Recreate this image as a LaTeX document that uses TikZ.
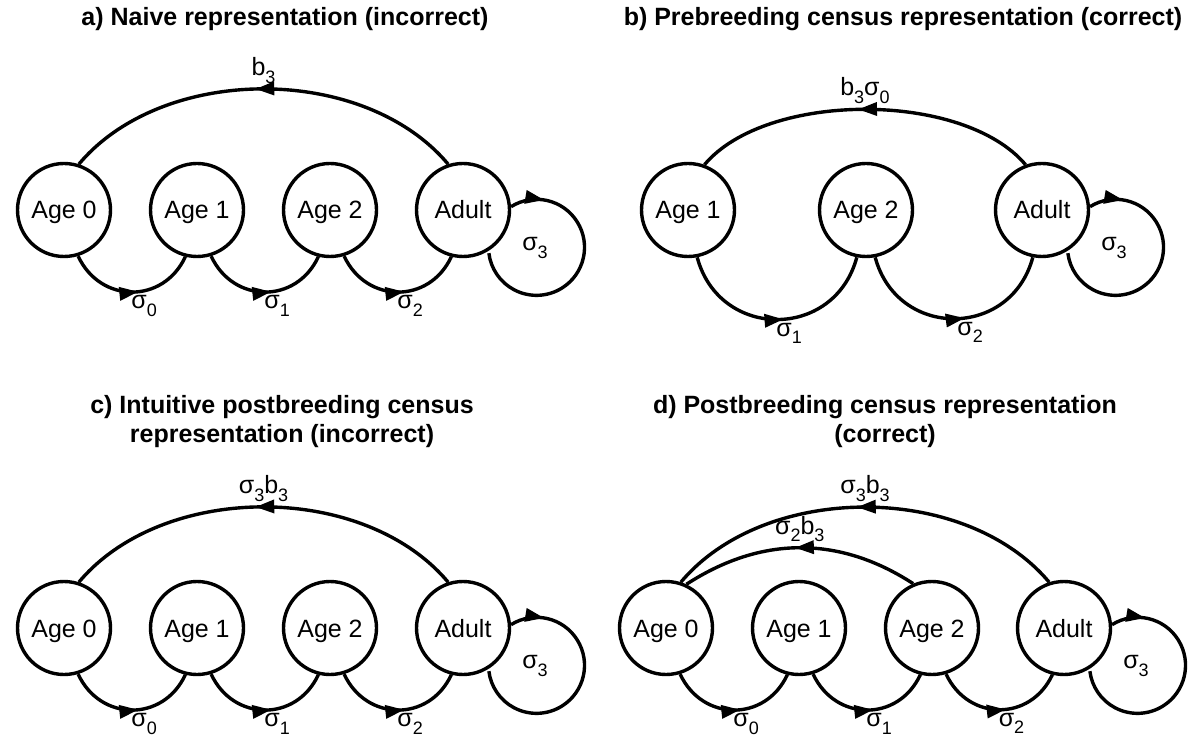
\documentclass[tikz,border=0pt]{standalone}
\usepackage{fontspec}
\setmainfont{Liberation Sans}
\usetikzlibrary{arrows.meta,positioning,calc,decorations.markings}
\newcommand{\lowidx}[1]{\raisebox{-.3em}{\fontsize{18}{18}\selectfont #1}}
\tikzset{
  stage/.style={circle,draw,line width=3.4pt,minimum size=93pt,inner sep=0pt,text height=18pt,text depth=0pt},
  link/.style={line width=3.4pt},
  midarr/.style={decoration={markings,mark=at position #1 with {\arrow{Triangle[length=19pt,width=13pt]}}},postaction={decorate}},
  midarr/.default=.52,
  ttl/.style={font=\fontsize{25}{29}\selectfont\bfseries,align=center},
  lbl/.style={inner sep=1pt}
}

\begin{document}
\begin{tikzpicture}[x=1pt,y=1pt,>=Stealth,font=\fontsize{25}{30}\selectfont]
\useasboundingbox (0,0) rectangle (1199,737);
\node[ttl] (ta) at (285,718) {a) Naive representation (incorrect)};
\node[ttl] (tb) at (903,718) {b) Prebreeding census representation (correct)};
\node[ttl] (tc) at (282,315) {c) Intuitive postbreeding census\\representation (incorrect)};
\node[ttl] (td) at (885,315) {d) Postbreeding census representation\\(correct)};

\node[stage] (a0) at (64,527) {Age 0};
\node[stage] (a1) at (197,527) {Age 1};
\node[stage] (a2) at (330,527) {Age 2};
\node[stage] (a3) at (463,527) {Adult};
\draw[link,midarr=.55] (a0.-73) to[out=-65,in=-115,looseness=1.25] node[lbl,pos=.55,below=1pt,xshift=6pt] (sa0) {σ\lowidx{0}} (a1.-104);
\draw[link,midarr=.55] (a1.-73) to[out=-65,in=-115,looseness=1.25] node[lbl,pos=.55,below=1pt,xshift=6pt] (sa1) {σ\lowidx{1}} (a2.-104);
\draw[link,midarr=.55] (a2.-73) to[out=-65,in=-115,looseness=1.25] node[lbl,pos=.55,below=1pt,xshift=6pt] (sa2) {σ\lowidx{2}} (a3.-104);
\draw[link,midarr] (a3.108) to[out=130,in=50,looseness=.91] node[lbl,pos=.5,above=3pt] (ba) {b\lowidx{3}} (a0.72);
\draw[link,midarr=.14] (a3.4) arc[start angle=122,end angle=-173,radius=48];
\node[lbl] (sa3) at (535,489) {σ\lowidx{3}};

\node[stage] (b1) at (688,527) {Age 1};
\node[stage] (b2) at (866,527) {Age 2};
\node[stage] (b3) at (1042,527) {Adult};
\draw[link,midarr=.53] (b1.-79) to[out=-75,in=-105,looseness=1.38] node[lbl,pos=.53,below=1pt,xshift=6pt] (sb1) {σ\lowidx{1}} (b2.-101);
\draw[link,midarr=.55] (b2.-79) to[out=-75,in=-105,looseness=1.38] node[lbl,pos=.55,below=1pt,xshift=6pt] (sb2) {σ\lowidx{2}} (b3.-101);
\draw[link,midarr] (b3.110) to[out=130,in=50,looseness=.77] node[lbl,pos=.5,above=3pt] (bb) {b\lowidx{3}σ\lowidx{0}} (b1.70);
\draw[link,midarr=.14] (b3.4) arc[start angle=122,end angle=-173,radius=48];
\node[lbl] (sb3) at (1114,489) {σ\lowidx{3}};

\node[stage] (c0) at (64,109) {Age 0};
\node[stage] (c1) at (197,109) {Age 1};
\node[stage] (c2) at (330,109) {Age 2};
\node[stage] (c3) at (463,109) {Adult};
\draw[link,midarr=.55] (c0.-73) to[out=-65,in=-115,looseness=1.25] node[lbl,pos=.55,below=1pt,xshift=6pt] (sc0) {σ\lowidx{0}} (c1.-104);
\draw[link,midarr=.55] (c1.-73) to[out=-65,in=-115,looseness=1.25] node[lbl,pos=.55,below=1pt,xshift=6pt] (sc1) {σ\lowidx{1}} (c2.-104);
\draw[link,midarr=.55] (c2.-73) to[out=-65,in=-115,looseness=1.25] node[lbl,pos=.55,below=1pt,xshift=6pt] (sc2) {σ\lowidx{2}} (c3.-104);
\draw[link,midarr] (c3.108) to[out=130,in=50,looseness=.91] node[lbl,pos=.5,above=3pt] (bc) {σ\lowidx{3}b\lowidx{3}} (c0.72);
\draw[link,midarr=.14] (c3.4) arc[start angle=122,end angle=-173,radius=48];
\node[lbl] (sc3) at (535,71) {σ\lowidx{3}};

\node[stage] (d0) at (666,109) {Age 0};
\node[stage] (d1) at (799,109) {Age 1};
\node[stage] (d2) at (932,109) {Age 2};
\node[stage] (d3) at (1064,109) {Adult};
\draw[link,midarr=.55] (d0.-73) to[out=-65,in=-115,looseness=1.25] node[lbl,pos=.55,below=1pt,xshift=6pt] (sd0) {σ\lowidx{0}} (d1.-104);
\draw[link,midarr=.55] (d1.-73) to[out=-65,in=-115,looseness=1.25] node[lbl,pos=.55,below=1pt,xshift=6pt] (sd1) {σ\lowidx{1}} (d2.-104);
\draw[link,midarr=.55] (d2.-73) to[out=-65,in=-115,looseness=1.25] node[lbl,pos=.55,below=1pt,xshift=6pt] (sd2) {σ\lowidx{2}} (d3.-104);
\draw[link,midarr] (d3.108) to[out=130,in=50,looseness=.91] node[lbl,pos=.5,above=3pt] (bd3) {σ\lowidx{3}b\lowidx{3}} (d0.72);
\draw[link,midarr] (d2.113) to[out=147,in=33,looseness=1] node[lbl,pos=.5,above=3pt] (bd2) {σ\lowidx{2}b\lowidx{3}} (d0.65);
\draw[link,midarr=.14] (d3.4) arc[start angle=122,end angle=-173,radius=48];
\node[lbl] (sd3) at (1136,71) {σ\lowidx{3}};
\end{tikzpicture}
\end{document}
